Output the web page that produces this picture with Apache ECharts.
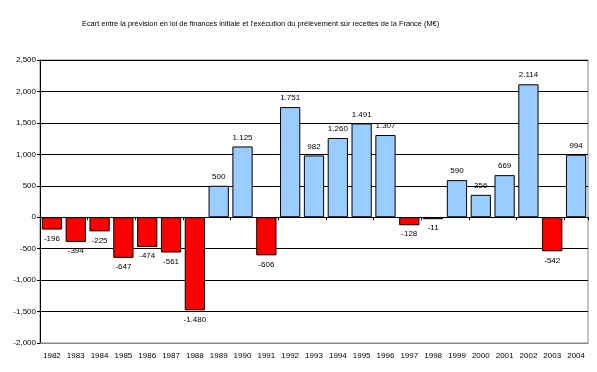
<!DOCTYPE html>
<html><head><meta charset="utf-8">
<script src="https://cdn.jsdelivr.net/npm/echarts@6/dist/echarts.min.js"></script>
<style>html,body{margin:0;padding:0;background:#fff}#c{width:597px;height:372px}</style>
</head><body><div id="c"></div>
<script>
const titleText = "Ecart entre la prévision en loi de finances initiale et l'exécution du prélèvement sur recettes de la France (M€)";
const years = ["1982","1983","1984","1985","1986","1987","1988","1989","1990","1991","1992","1993","1994","1995","1996","1997","1998","1999","2000","2001","2002","2003","2004"];
const ecart = [-196,-394,-225,-647,-474,-561,-1480,500,1125,-606,1751,982,1260,1491,1307,-128,-11,590,356,669,2114,-542,994];
const yMin = -2000, yMax = 2500, yStep = 500;

function fmtDot(v){const s=Math.abs(v).toString().replace(/\B(?=(\d{3})+(?!\d))/g,'.');return (v<0?'-':'')+s;}
function fmtComma(v){const s=Math.abs(v).toString().replace(/\B(?=(\d{3})+(?!\d))/g,',');return (v<0?'-':'')+s;}

const font = "'Liberation Sans', Arial, sans-serif";
const chart = echarts.init(document.getElementById('c'), null, {renderer:'canvas'});
chart.setOption({
  animation:false,
  backgroundColor:'#fff',
  title:{text:titleText,left:77,top:15,textStyle:{fontFamily:font,fontSize:7.4,fontWeight:'normal',color:'#000'}},
  grid:{left:40,right:9,top:60,bottom:29,show:true,borderColor:'#888',borderWidth:1,backgroundColor:'#fff'},
  xAxis:[
    {type:'category',data:years,axisLine:{onZero:true,lineStyle:{color:'#000',width:1}},
     axisTick:{show:true,inside:false,length:3,lineStyle:{color:'#000'}},axisLabel:{show:false},splitLine:{show:false}},
    {type:'category',data:years,position:'bottom',axisLine:{onZero:false,lineStyle:{color:'#888'}},
     axisTick:{show:false},axisLabel:{fontFamily:font,fontSize:8,color:'#000',margin:9,interval:0},splitLine:{show:false}}
  ],
  yAxis:{type:'value',min:yMin,max:yMax,interval:yStep,
    axisLine:{show:true,lineStyle:{color:'#000'}},axisTick:{show:true,length:3,lineStyle:{color:'#000'}},
    axisLabel:{fontFamily:font,fontSize:8,color:'#000',margin:4,formatter:fmtComma},
    splitLine:{show:true,lineStyle:{color:'#000',width:1}}},
  series:[{
    type:'bar',xAxisIndex:0,barCategoryGap:'15%',barMinHeight:2,
    data:ecart.map(v=>({value:v,
      itemStyle:{color:v<0?'#ff0000':'#99ccff',borderColor:'#000',borderWidth:1},
      label:{show:true,position:v<0?'bottom':'top',distance:5}})),
    label:{fontFamily:font,fontSize:8,color:'#000',formatter:p=>fmtDot(p.value)}
  }]
});
</script></body></html>
